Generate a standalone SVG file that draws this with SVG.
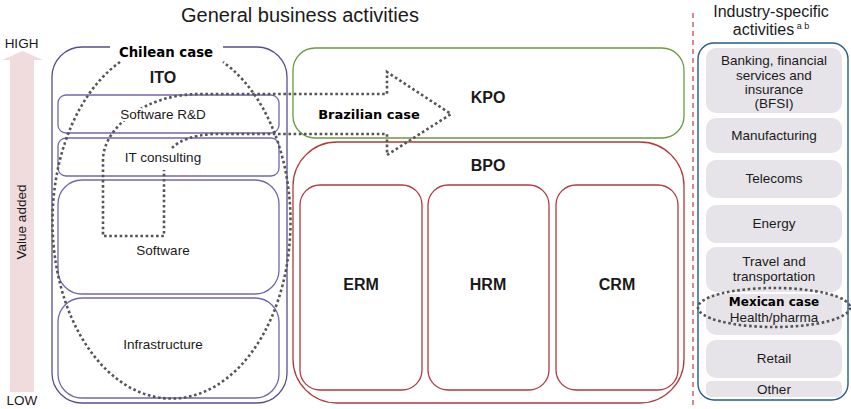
<svg xmlns="http://www.w3.org/2000/svg" width="851" height="409" viewBox="0 0 851 409">
<defs>
<style>
.t{font-family:"Liberation Sans",Arial,sans-serif;fill:#1a1a1a;text-anchor:middle}
.s{font-size:13.5px}
.b{font-weight:bold;font-size:16px}
.halo{stroke:#fff;stroke-width:4;paint-order:stroke;stroke-linejoin:round}
.case{font-family:"DejaVu Sans","Liberation Sans",sans-serif;font-weight:bold;fill:#000;text-anchor:middle}
.ito{fill:#fff;stroke:#5b4e8a;stroke-width:1.3}
.itoi{fill:#fff;stroke:#7566aa;stroke-width:1.3}
.red{fill:#fff;stroke:#b13a3c;stroke-width:1.3}
.grey{fill:#e6e4e8}
.dot{fill:none;stroke:#555;stroke-width:2.6;stroke-dasharray:2.6 2.6}
</style>
</defs>
<rect width="851" height="409" fill="#fff"/>

<!-- value added arrow -->
<g id="value-axis">
<path d="M10,392 V60 H2 L22.5,51 L43,60 H34 V392 Z" fill="#f0dcdc"/>
<text class="t s" x="21.5" y="48">HIGH</text>
<text class="t s" x="22" y="405">LOW</text>
<text class="t s" transform="translate(26,222) rotate(-90)" x="0" y="0">Value added</text>
</g>

<text class="t" x="300" y="22" font-size="20">General business activities</text>

<!-- ITO -->
<g id="ito">
<rect class="ito" x="52" y="47" width="235" height="356" rx="30"/>
<rect x="110" y="40" width="113" height="14" fill="#fff"/>
<text class="t b" x="163" y="83">ITO</text>
</g>
<g id="software-rd">
<rect class="itoi" x="58" y="95" width="221" height="38" rx="8"/>
</g>
<g id="it-consulting">
<rect class="itoi" x="58" y="138" width="221" height="38" rx="8"/>
</g>
<g id="software">
<rect class="itoi" x="58" y="180" width="221" height="114" rx="24"/>
<text class="t s" x="163" y="255">Software</text>
</g>
<g id="infrastructure">
<rect class="itoi" x="58" y="298" width="221" height="100" rx="24"/>
<text class="t s" x="163" y="349">Infrastructure</text>
</g>

<!-- KPO -->
<g id="kpo">
<rect x="293" y="48" width="391" height="90" rx="22" fill="#fff" stroke="#6b9a3c" stroke-width="1.3"/>
<text class="t b" x="488" y="103">KPO</text>
</g>

<!-- BPO -->
<g id="bpo">
<rect class="red" x="293" y="142" width="391" height="261" rx="44"/>
<text class="t b" x="488" y="171">BPO</text>
</g>
<g id="erm">
<rect class="red" x="300" y="185" width="122" height="205" rx="20"/>
<text class="t b" x="361" y="290">ERM</text>
</g>
<g id="hrm">
<rect class="red" x="428" y="185" width="121" height="205" rx="20"/>
<text class="t b" x="488" y="290">HRM</text>
</g>
<g id="crm">
<rect class="red" x="556" y="185" width="122" height="205" rx="20"/>
<text class="t b" x="617" y="290">CRM</text>
</g>

<!-- divider -->
<line x1="693" y1="13" x2="693" y2="409" stroke="#c0393b" stroke-width="1.2" stroke-dasharray="5 4"/>

<!-- Industry-specific -->
<text class="t" font-size="16" x="771" y="17">Industry-specific</text>
<text class="t" font-size="16" x="771" y="35">activities<tspan font-size="9" dy="-6"> a b</tspan></text>
<g id="industry">
<rect x="698" y="43" width="150" height="357" rx="16" fill="#fff" stroke="#235b8c" stroke-width="1.4"/>
</g>
<g id="bfsi">
<rect class="grey" x="706" y="48" width="136" height="65" rx="10"/>
<text class="t s" x="774" y="65">Banking, financial</text>
<text class="t s" x="774" y="79.5">services and</text>
<text class="t s" x="774" y="94">insurance</text>
<text class="t s" x="774" y="108">(BFSI)</text>
</g>
<g id="manufacturing">
<rect class="grey" x="706" y="118" width="136" height="35" rx="10"/>
<text class="t s" x="774" y="140">Manufacturing</text>
</g>
<g id="telecoms">
<rect class="grey" x="706" y="160" width="136" height="38" rx="10"/>
<text class="t s" x="774" y="183">Telecoms</text>
</g>
<g id="energy">
<rect class="grey" x="706" y="205" width="136" height="38" rx="10"/>
<text class="t s" x="774" y="228">Energy</text>
</g>
<g id="travel">
<rect class="grey" x="706" y="247" width="136" height="45" rx="10"/>
<text class="t s" x="774" y="266">Travel and</text>
<text class="t s" x="774" y="281">transportation</text>
</g>
<g id="health">
<rect class="grey" x="706" y="294" width="136" height="41" rx="10"/>
</g>
<g id="retail">
<rect class="grey" x="706" y="340" width="136" height="38" rx="10"/>
<text class="t s" x="774" y="363">Retail</text>
</g>
<g id="other">
<rect class="grey" x="706" y="381" width="136" height="16" rx="5"/>
<text class="t s" x="774" y="394">Other</text>
</g>

<!-- dotted connectors / highlights -->
<g id="connectors">
<path class="dot" d="M120,62 A119,177 0 1 0 223,62"/>
<path class="dot" d="M172,148 Q184,136 212,134 H387 V155 L451,114 L387,72 V94 H200 C145,94 103,128 103,160 V236 H164 V170"/>
<ellipse class="dot" cx="774" cy="307.5" rx="76" ry="19.5"/>
</g>

<!-- labels on top -->
<text class="t s halo" x="163" y="119">Software R&amp;D</text>
<text class="t s halo" x="163" y="162">IT consulting</text>
<text class="case" font-size="13.3" x="166" y="57">Chilean case</text>
<text class="case" font-size="13" x="369" y="118.5">Brazilian case</text>
<text class="case" font-size="12" x="774" y="306">Mexican case</text>
<text class="t s" x="774" y="322">Health/pharma</text>
</svg>
